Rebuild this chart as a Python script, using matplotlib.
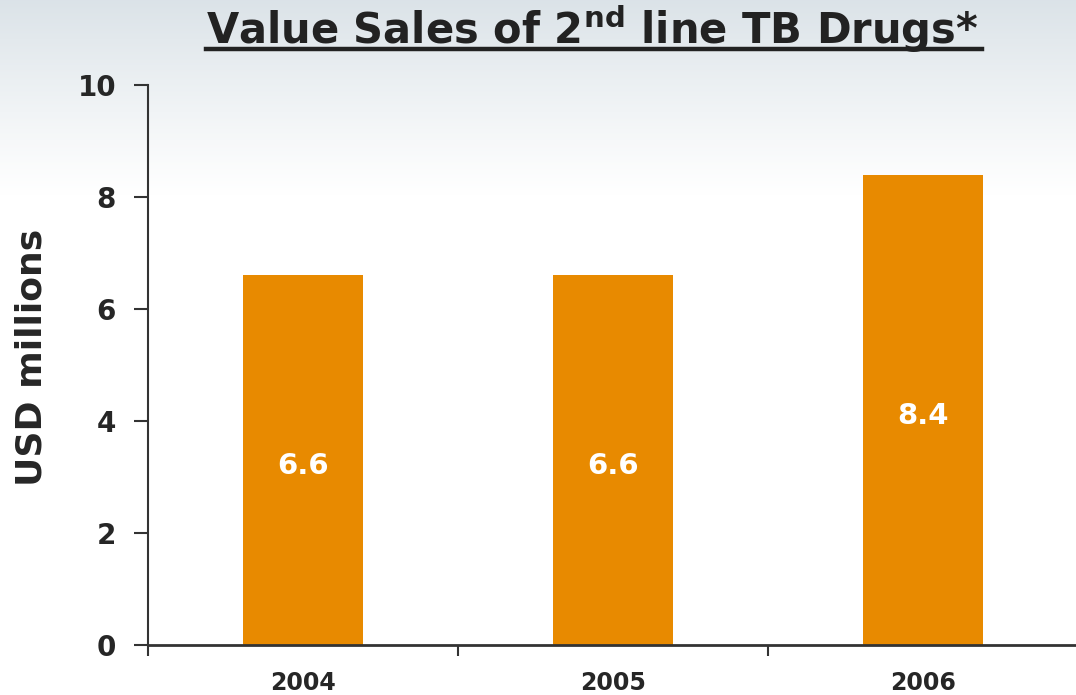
import numpy as np
import matplotlib
matplotlib.use("Agg")
import matplotlib.pyplot as plt
from matplotlib.lines import Line2D

years = ["2004", "2005", "2006"]
sales = [6.6, 6.6, 8.4]
yticks = [0, 2, 4, 6, 8, 10]

bar_color = "#E88A00"
text_color = "#262626"

plt.rcParams["mathtext.fontset"] = "dejavusans"

fig = plt.figure(figsize=(10.76, 6.95), dpi=100)

# soft grey gradient behind the top of the slide
bg = fig.add_axes([0, 0, 1, 1], zorder=-10)
h = 695
grad = np.ones((h, 1, 3))
top = np.array([0.86, 0.89, 0.91])
fade = np.clip(1 - np.arange(h) / 195.0, 0, 1) ** 1.1
grad[:, 0, :] = 1 - (1 - top) * fade[:, None]
bg.imshow(grad, aspect="auto", extent=[0, 1, 0, 1], origin="upper")
bg.axis("off")

W, H = 1076, 695
ax = fig.add_axes([148 / W, (H - 645) / H, 930 / W, 560 / H])
ax.set_facecolor("none")

x = np.arange(len(years))
bars = ax.bar(x, sales, width=0.39, color=bar_color, zorder=2)
for b, v in zip(bars, sales):
    ax.text(b.get_x() + b.get_width() / 2, v / 2 - 0.05, f"{v:.1f}", ha="center",
            va="center_baseline", color="white", fontsize=21, fontweight="bold")

ax.set_xlim(-0.5, 2.5)
ax.set_ylim(0, 10)
ax.set_yticks(yticks)
ax.set_xticks(x)
ax.set_xticklabels(years)
ax.set_xticks([-0.5, 0.5, 1.5, 2.5], minor=True)
ax.tick_params(axis="x", which="major", length=0, pad=19, labelsize=17, labelcolor=text_color)
ax.tick_params(axis="x", which="minor", length=8, width=1.5, color="#333333", direction="out")
ax.tick_params(axis="y", length=10, width=1.5, color="#333333", pad=13, labelsize=20,
               labelcolor=text_color)
for lab in ax.get_xticklabels() + ax.get_yticklabels():
    lab.set_fontweight("bold")

for s in ["top", "right"]:
    ax.spines[s].set_visible(False)
ax.spines["left"].set_linewidth(1.5)
ax.spines["left"].set_color("#333333")
ax.spines["bottom"].set_linewidth(2)
ax.spines["bottom"].set_color("#333333")

fig.text(32 / W, 1 - 357 / H, "USD millions", rotation=90, ha="center", va="center",
         fontsize=26, fontweight="bold", color=text_color)

title = fig.text(592 / W, 1 - 29 / H, r"Value Sales of 2$^{\mathbf{nd}}$ line TB Drugs*",
                 ha="center", va="center", fontsize=30, fontweight="bold", color="#222222")
fig.canvas.draw()
bb = title.get_window_extent().transformed(fig.transFigure.inverted())
fig.add_artist(Line2D([bb.x0, bb.x1 + 4 / W], [1 - 49 / H] * 2, color="#222222", linewidth=3.2,
                      transform=fig.transFigure))

fig.savefig("out.png", dpi=100)
